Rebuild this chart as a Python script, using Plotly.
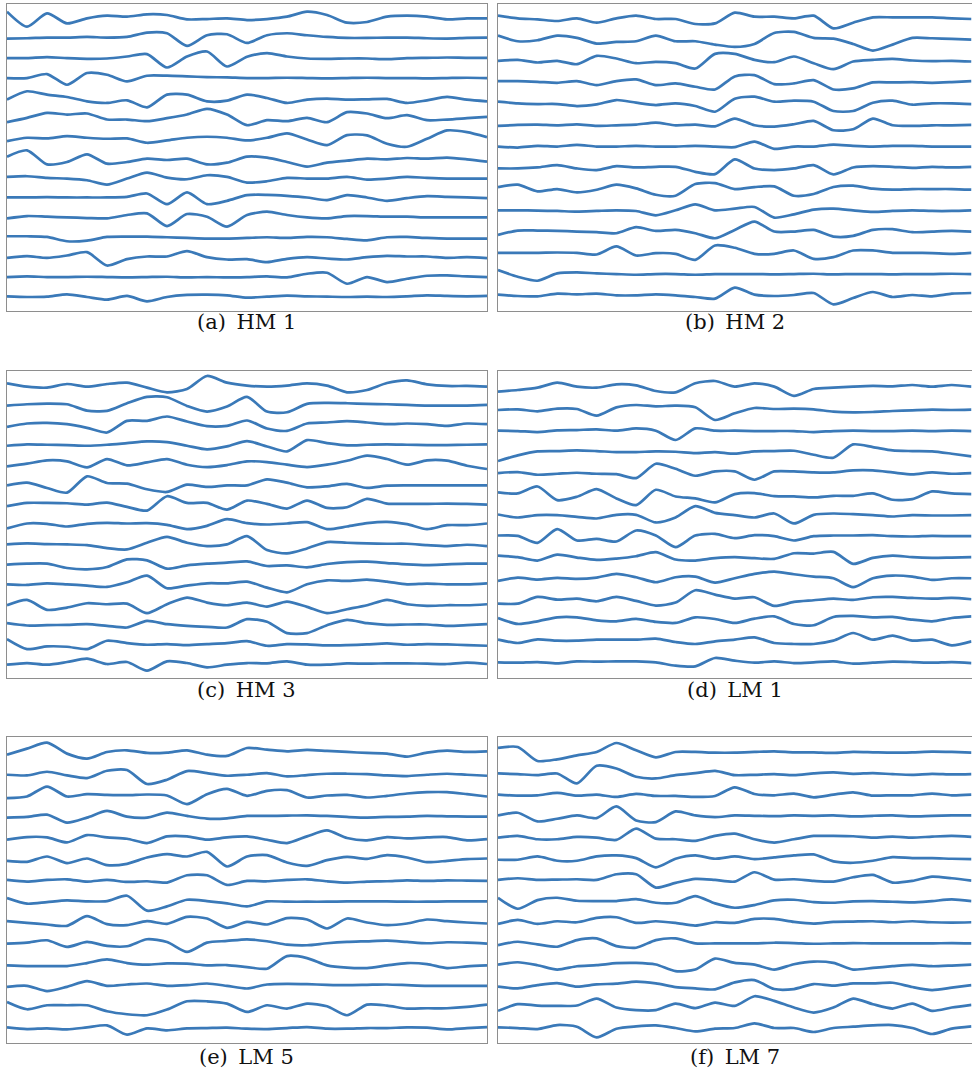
import plotly.graph_objects as go

# sample positions along each trace (25 equally spaced samples)
SAMPLES = list(range(25))

# ---- HM 1 ----
HM1 = [
    [20,-25,15,-15,0,8,5,12,10,-3,-2,0,-5,-2,5,20,10,-13,-11,5,8,5,-3,0,0],
    [-1,0,2,2,4,2,4,17,15,-23,9,12,-14,9,15,9,4,1,1,2,2,0,-1,1,2],
    [0,0,3,0,-2,-1,5,12,-28,5,20,-25,4,15,5,-1,-2,-1,-1,-3,0,1,2,1,1],
    [0,0,12,-20,15,10,-10,7,7,5,3,2,0,0,1,0,-1,0,1,0,0,-1,0,1,0],
    [-5,20,10,3,-10,-15,-7,-28,10,10,-10,-8,10,0,-15,-5,-2,-5,-4,-3,-15,-7,3,-5,-10],
    [-13,0,15,10,13,-5,-5,-10,-1,10,27,10,-22,-7,-10,0,-13,17,13,-1,8,-7,-5,-1,3],
    [-10,0,-2,5,0,-3,-2,-15,-8,0,3,0,-8,0,13,-5,-22,8,7,-18,-27,-3,22,17,2],
    [3,22,-20,-13,10,-18,-13,-3,-7,-3,-20,-15,3,0,-13,-27,-15,-9,-3,-5,-1,-3,0,-5,-12],
    [2,4,-1,-3,-8,-21,-3,15,0,-5,7,2,-15,-11,-1,-3,-3,2,-6,-3,2,-1,-3,-3,-3],
    [0,0,1,0,0,0,2,12,-20,15,-20,-10,7,8,5,0,-8,7,0,-10,-2,4,2,0,-2],
    [-3,4,2,0,-2,-3,7,12,-26,10,2,-28,7,17,7,0,-3,4,4,2,2,0,0,0,0],
    [3,3,1,-12,-10,1,2,2,0,-2,-4,-4,-2,0,-2,1,0,-5,-9,0,1,-2,-4,-4,-4],
    [-2,3,-2,5,15,-25,-6,2,2,18,0,-7,-6,-15,-5,0,-4,-7,0,4,2,2,-2,0,-3],
    [0,2,0,0,1,0,-1,0,1,-1,0,-1,0,2,-1,10,13,-20,0,-15,-5,4,5,2,0],
    [2,0,1,8,0,-8,3,-13,0,6,7,5,-2,1,4,2,1,0,1,0,2,5,3,2,3],
]

# ---- HM 2 ----
HM2 = [
    [10,2,-1,-6,2,-11,2,10,0,0,-15,-13,19,7,7,2,10,-28,-11,5,5,5,5,2,0],
    [14,-3,0,14,7,-10,-5,-3,14,-3,-3,-13,-20,-11,22,25,7,5,-11,-31,-13,7,6,4,2],
    [2,5,-3,2,-8,17,9,-5,-1,-5,-21,23,23,5,-2,15,-5,-23,0,5,8,3,1,2,0],
    [5,5,3,0,5,-7,5,10,-7,-2,-12,-20,19,23,-4,-2,8,-20,-17,1,1,2,0,2,5],
    [7,2,0,0,-6,-1,12,4,-3,2,-6,-23,16,22,7,10,7,-21,-21,4,10,-2,2,2,0],
    [-2,1,2,0,3,-2,0,2,8,0,2,-3,20,0,-4,3,13,-15,-12,20,0,-2,0,0,1],
    [0,-3,2,0,5,0,0,2,0,0,2,0,-2,15,-7,0,0,6,2,0,2,2,0,0,0],
    [-2,-2,1,8,-2,-7,5,1,3,3,-12,-19,25,-2,-7,-2,8,-20,1,5,3,0,3,1,3],
    [6,13,-7,0,-10,-2,13,2,-17,-20,15,18,0,6,8,-20,-15,6,10,1,-2,0,0,0,-2],
    [0,0,-1,-2,-4,-2,0,-2,-15,0,18,0,5,10,-22,-12,2,5,0,-5,-2,0,-2,-2,0],
    [-10,3,3,2,0,-2,-5,13,2,5,-5,-20,5,30,0,0,5,-15,-13,5,7,-2,0,2,0],
    [0,0,0,1,0,-5,19,-8,-1,-3,-21,22,15,-3,-3,7,-18,-13,7,7,0,0,-1,-3,0],
    [12,-8,-20,2,5,2,0,-2,0,0,-2,0,0,0,-1,0,1,-1,0,0,-1,0,0,1,0],
    [2,-2,-3,5,3,5,0,0,3,0,-5,-10,23,2,-2,1,7,-27,-8,10,-5,1,-3,5,7],
]

# ---- HM 3 ----
HM3 = [
    [5,-5,-8,3,-5,3,7,-8,-22,-12,27,7,-2,-5,-2,5,-2,-22,-15,6,14,2,-3,-3,-5],
    [-2,2,4,2,-17,-18,5,24,23,-3,-20,-5,24,-20,-22,3,6,5,3,2,0,-2,-2,-2,0],
    [-6,4,6,2,-9,-23,12,12,25,10,-4,-3,13,-11,-18,4,7,11,7,2,4,2,-3,4,2],
    [-3,1,0,-1,-3,0,5,10,8,-3,-14,-5,11,-5,-20,14,5,-2,0,1,0,-1,-1,0,1],
    [-5,3,13,10,-8,17,-2,7,17,0,-7,-1,10,8,0,-7,0,12,27,17,0,13,12,-3,-13],
    [-2,6,-10,-24,25,5,3,-14,-22,0,-7,-2,-2,16,6,-8,-5,2,-10,-3,-2,-2,-2,-2,-2],
    [-5,5,5,4,0,6,-7,-18,25,5,5,-15,12,2,-12,12,-10,-8,17,3,2,2,3,2,0],
    [-12,3,2,-6,2,5,3,4,-1,-14,-4,16,4,0,3,7,-14,-6,4,8,1,-14,-2,-2,3],
    [0,3,1,0,-2,-11,-15,5,23,5,-5,0,25,-17,-27,-12,7,5,3,2,2,-2,-5,-1,-5],
    [-1,2,2,-11,-15,-8,15,12,-13,-3,2,5,9,-5,-3,-9,1,7,8,4,0,-2,0,2,2],
    [0,-2,3,0,-4,-8,6,26,-12,-4,3,3,8,-10,-24,0,12,10,14,8,0,2,0,0,3],
    [-3,13,-17,-10,3,0,2,-27,0,20,5,-3,5,-7,8,-8,-27,-15,-3,13,0,-5,-3,-3,0],
    [3,-4,-3,-2,0,-5,-10,10,0,-5,-8,-10,15,7,-27,-27,-3,13,3,-2,-1,-1,-5,-3,0],
    [15,-15,-7,-8,-15,10,3,-2,0,-3,0,3,9,-5,0,-1,-4,-3,-1,2,-2,0,-1,-3,-5],
    [-2,3,-2,6,16,0,6,-20,8,3,-10,-2,3,2,8,-2,-2,2,1,2,2,1,0,4,0],
]

# ---- LM 1 ----
LM1 = [
    [-8,-3,4,19,7,4,14,11,-6,-10,17,24,7,17,7,-21,0,4,7,9,8,12,7,12,7],
    [0,2,-4,4,3,-17,8,15,11,13,8,-30,-10,6,3,4,2,-5,-7,-6,-3,-1,1,0,1],
    [1,0,-3,2,3,5,1,8,1,-27,8,1,1,0,0,0,-3,0,1,0,0,1,0,1,0],
    [-27,-10,2,3,5,3,0,0,2,1,-3,0,-5,2,3,4,-8,-17,23,15,5,3,2,-5,-13],
    [0,3,-5,-2,1,-2,-3,-15,28,13,-8,5,5,-20,5,5,2,2,8,8,2,-4,2,-2,0],
    [5,2,23,-18,-8,15,-13,-33,13,-7,-13,-25,0,3,-6,-7,-10,-5,-5,2,-17,-15,8,2,0],
    [2,-7,0,0,-5,-10,1,1,-22,-7,27,7,0,-7,5,-25,1,5,3,0,-4,0,-1,-1,0],
    [2,1,-20,21,-13,-8,-16,17,2,-33,2,7,-6,3,0,-13,0,2,2,3,0,-1,1,0,0],
    [5,0,-10,8,-1,-8,-4,3,15,-7,-10,-3,0,-3,-5,12,11,16,-20,-2,5,0,-2,-1,0],
    [-8,2,-4,1,-2,2,13,3,-12,3,5,-13,0,13,20,12,5,0,-27,0,8,5,-5,0,0],
    [-13,-13,7,-1,2,-6,7,-5,-19,-10,27,14,2,6,-20,-8,-3,2,-2,6,7,4,2,4,0],
    [7,-11,-3,9,9,0,-3,4,-5,-8,9,4,-8,5,12,-11,-15,10,13,9,10,2,-3,7,12],
    [5,-5,6,2,2,5,5,5,8,-2,-8,0,5,12,-5,-8,-8,2,25,5,17,2,5,-12,0],
    [0,-1,1,-3,3,2,3,3,0,-10,-12,13,5,-1,3,-2,0,3,-4,-1,2,1,-1,1,-2],
]

# ---- LM 5 ----
LM5 = [
    [-3,15,33,0,-15,5,10,2,3,10,-3,-7,17,12,7,11,8,5,2,0,-9,3,9,5,7],
    [0,-2,9,-2,-10,12,14,-28,-15,11,5,-3,0,5,-5,-1,3,3,2,-2,-4,0,3,0,-3],
    [-7,-2,28,-2,5,3,2,4,1,-25,5,21,0,15,17,-5,1,3,-5,0,7,11,11,5,-2],
    [-2,0,7,-17,-2,18,1,-2,13,3,-5,-4,3,3,4,5,3,0,-2,0,1,3,2,1,1],
    [-5,3,2,-13,9,2,-2,-15,5,5,-5,2,5,-5,-15,5,23,0,-7,3,-1,2,3,-7,-3],
    [-5,-8,8,-12,2,-18,-14,5,15,8,22,-22,8,12,-10,-20,-3,7,1,12,5,-9,-5,0,2],
    [1,-4,1,3,-4,1,-5,-3,-7,15,15,-14,-2,-3,1,3,-3,-7,-4,-3,0,-2,0,-1,-2],
    [10,-7,-2,3,0,1,17,-28,-15,5,1,-6,-15,0,-1,-1,-1,0,0,0,-1,-1,0,0,0],
    [4,-1,-6,-10,19,-5,-8,4,-4,17,12,-16,2,-6,13,9,-18,12,0,-8,-3,9,4,0,-3],
    [0,3,10,-10,5,-7,-8,13,5,-25,3,8,13,7,-3,-5,1,5,7,9,5,1,4,3,0],
    [-2,-4,-4,-4,5,16,5,0,4,3,-2,-1,-7,-12,26,20,-2,-9,-10,-2,5,2,-10,-5,-2],
    [-3,0,-16,-3,14,0,4,7,0,2,7,0,-8,4,6,5,3,2,3,4,2,0,0,0,0],
    [15,-7,5,5,5,-13,-22,-25,-8,17,17,10,-15,5,-5,10,2,-25,7,4,-5,-4,-4,0,7],
    [2,-3,-1,-4,2,8,-20,-1,-7,-1,0,1,-2,-3,0,3,-2,-2,0,0,2,1,-4,0,3],
]

# ---- LM 7 ----
LM7 = [
    [15,18,-24,-19,-7,3,30,8,-13,3,3,1,1,3,5,2,2,0,3,2,1,2,4,3,1],
    [2,0,-3,2,-28,25,17,-8,-13,-3,3,10,-3,-2,0,-3,2,5,1,3,0,-2,1,-1,0],
    [2,-1,0,7,-1,2,-5,4,-2,-2,-5,-2,24,4,0,5,-6,2,9,-1,0,0,5,0,2],
    [3,11,-15,-7,3,-5,30,-12,-17,15,3,-2,3,2,1,3,2,3,0,2,3,0,2,3,3],
    [0,5,-5,-5,2,0,-7,27,-3,-5,-10,5,12,-5,-15,-5,5,5,4,0,3,0,3,5,2],
    [-3,-3,7,-6,-6,7,10,2,-26,0,10,0,7,-1,4,10,13,-8,-12,-6,5,2,2,0,-1],
    [0,5,0,1,2,0,17,17,-23,-9,3,0,-5,23,1,2,-3,-5,8,15,-8,-3,10,5,-2],
    [10,-23,3,10,1,0,0,6,-5,-5,15,-7,-20,-12,2,4,-3,-5,-1,0,-2,-4,0,5,0],
    [-5,7,-5,3,0,13,15,-2,3,-2,-10,0,-2,10,10,1,-4,1,2,3,0,3,0,-1,0],
    [-5,5,-3,-10,10,15,-8,-13,10,15,0,0,0,0,2,1,-1,0,1,0,0,0,0,1,0],
    [0,7,-2,-15,-5,-2,4,5,0,-20,-15,18,5,0,-15,1,9,5,-15,-10,-5,-1,-5,-3,0],
    [-3,-8,2,8,-3,4,6,12,7,-4,-8,-11,10,17,-10,-10,5,0,7,7,9,-4,-13,-6,2],
    [-12,8,4,3,4,25,-2,-10,-10,10,-4,13,3,32,18,-2,-17,-2,25,8,-5,10,-12,-2,6],
    [2,0,-3,9,4,-28,-2,5,8,0,-10,-2,0,14,0,0,-12,0,4,8,9,0,-18,-2,5],
]

CAPTIONS = ["(a)\u2002HM 1", "(b)\u2002HM 2", "(c)\u2002HM 3",
            "(d)\u2002LM 1", "(e)\u2002LM 5", "(f)\u2002LM 7"]
DATASETS = [HM1, HM2, HM3, LM1, LM5, LM7]

# ---- layout (pixels) ----
W, H = 972, 1074
# left, right, top, bottom of each plot frame; trace spacing; top/bottom padding
FRAMES = [
    (7, 487, 4, 311, 59.6, 43, 42),
    (498, 971.5, 4, 311, 63.7, 45, 47),
    (7, 487, 371, 678, 59.9, 42, 42),
    (498, 971.5, 371, 678, 63.2, 54, 47),
    (7, 487, 737, 1043, 63.5, 50, 45),
    (498, 971.5, 737, 1043, 63.6, 48, 45),
]
CAP_Y = [322, 322, 690, 690, 1057, 1057]

LINE_COLOR = "#3a79b8"
FRAME_COLOR = "#8e8e8e"

fig = go.Figure()
annotations = []
for p, (data, cap, fr, cy) in enumerate(zip(DATASETS, CAPTIONS, FRAMES, CAP_Y)):
    x0, x1, y0, y1, S, top_pad, bot_pad = fr
    n = len(data)
    ax = "" if p == 0 else str(p + 1)
    for i, vals in enumerate(data):
        fig.add_trace(go.Scatter(
            x=SAMPLES, y=[v - i * S for v in vals],
            mode="lines",
            line=dict(color=LINE_COLOR, width=2.7, shape="spline", smoothing=0.7),
            xaxis="x" + ax, yaxis="y" + ax,
            hoverinfo="skip", showlegend=False,
        ))
    axis_common = dict(showticklabels=False, showgrid=False, zeroline=False,
                       showline=True, mirror=True, linecolor=FRAME_COLOR,
                       linewidth=1, ticks="", fixedrange=True)
    fig.update_layout(**{
        "xaxis" + ax: dict(domain=[x0 / W, x1 / W], range=[0, len(SAMPLES) - 1],
                           anchor="y" + ax, **axis_common),
        "yaxis" + ax: dict(domain=[1 - y1 / H, 1 - y0 / H],
                           range=[-(n - 1) * S - bot_pad, top_pad],
                           anchor="x" + ax, **axis_common),
    })
    annotations.append(dict(
        text=cap, x=(x0 + x1) / 2 / W, y=1 - cy / H, xref="paper", yref="paper",
        xanchor="center", yanchor="middle", showarrow=False,
        font=dict(family="DejaVu Serif, Liberation Serif, serif", size=21, color="#111111"),
    ))

fig.update_layout(
    width=W, height=H, margin=dict(l=0, r=0, t=0, b=0),
    paper_bgcolor="white", plot_bgcolor="white",
    annotations=annotations,
)
fig.write_html("out.html")
